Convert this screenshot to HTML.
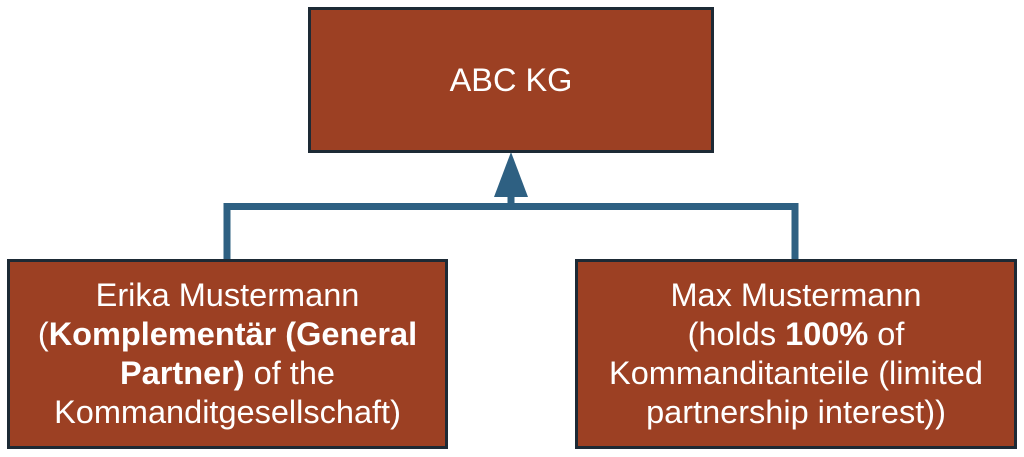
<!DOCTYPE html>
<html>
<head>
<meta charset="utf-8">
<style>
  html, body { margin: 0; padding: 0; background: #ffffff; }
  body { width: 1024px; height: 457px; position: relative; overflow: hidden; font-family: "Liberation Sans", Arial, sans-serif; }
  .box { position: absolute; box-sizing: border-box; background: #9c4023; border: 3px solid #1d2a35; color: #ffffff; display: flex; align-items: center; justify-content: center; text-align: center; font-size: 32.5px; line-height: 39px; }
  b { font-weight: bold; }
  svg { position: absolute; left: 0; top: 0; }
</style>
</head>
<body>
<svg width="1024" height="457" viewBox="0 0 1024 457">
  <polyline points="227,262 227,206.5 795,206.5 795,262" fill="none" stroke="#2e6082" stroke-width="7"/>
  <line x1="511" y1="206" x2="511" y2="190" stroke="#2e6082" stroke-width="7"/>
  <polygon points="511,152 494,197 528,197" fill="#2e6082"/>
</svg>
<div class="box" style="left:308px; top:7px; width:406px; height:146px;">ABC KG</div>
<div class="box" style="left:7px; top:259px; width:441px; height:190px;">
  <div>Erika Mustermann<br>(<b>Komplementär (General<br>Partner)</b> of the<br>Kommanditgesellschaft)</div>
</div>
<div class="box" style="left:575px; top:259px; width:442px; height:190px;">
  <div>Max Mustermann<br>(holds <b>100%</b> of<br>Kommanditanteile (limited<br>partnership interest))</div>
</div>
</body>
</html>
